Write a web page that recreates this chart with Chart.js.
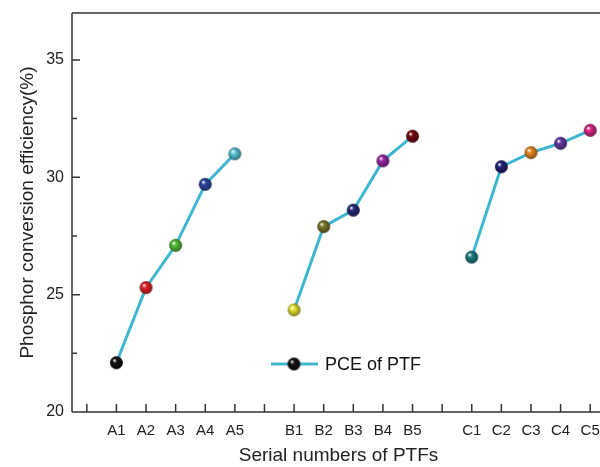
<!DOCTYPE html>
<html>
<head>
<meta charset="utf-8">
<script src="https://cdn.jsdelivr.net/npm/chart.js"></script>
<style>
  html, body { margin: 0; padding: 0; background: #fff; overflow: hidden; }
  #wrap { position: absolute; left: 0; top: 0; width: 620px; height: 467px; }
</style>
</head>
<body>
<div id="wrap"><canvas id="grafico"></canvas></div>
<script>
// datos
const categorias = ["", "A1", "A2", "A3", "A4", "A5", "", "B1", "B2", "B3", "B4", "B5", "", "C1", "C2", "C3", "C4", "C5"];
const valoresPCE = [null, 22.1, 25.3, 27.1, 29.7, 31.0, null, 24.35, 27.9, 28.6, 30.7, 31.75, null, 26.6, 30.45, 31.05, 31.45, 32.0];
const ticksY = [20, 25, 30, 35];
const ticksMenoresY = [22.5, 27.5, 32.5];

const coloresPuntos = [
  "#000000", "#111111", "#e8202a", "#58c03a", "#3048a8", "#5cc8dc",
  "#000000", "#e6e632", "#7c7a2e", "#262a80", "#9a2aa6", "#7a0a10",
  "#000000", "#1e7f82", "#22237a", "#f0891e", "#6a3aa6", "#e0288a"
];
const colorLinea = "#3fb6cf";
const fuente = "'Liberation Sans', Arial, sans-serif";

function oscurecer(hex, f) {
  const n = parseInt(hex.slice(1), 16);
  const r = Math.round(((n >> 16) & 255) * f);
  const g = Math.round(((n >> 8) & 255) * f);
  const b = Math.round((n & 255) * f);
  return `rgb(${r},${g},${b})`;
}

// esfera con brillo, como en la figura original
function crearEsfera(color, r) {
  const c = document.createElement("canvas");
  c.width = c.height = r * 2 + 2;
  const g = c.getContext("2d");
  const cx = r + 1, cy = r + 1;
  const grad = g.createRadialGradient(cx - r * 0.35, cy - r * 0.4, r * 0.05, cx, cy, r);
  grad.addColorStop(0, "#ffffff");
  grad.addColorStop(0.3, color);
  grad.addColorStop(1, oscurecer(color, 0.55));
  g.fillStyle = grad;
  g.beginPath();
  g.arc(cx, cy, r, 0, Math.PI * 2);
  g.fill();
  return c;
}

const esferas = coloresPuntos.map(c => crearEsfera(c, 6.5));

// marco, ticks hacia dentro y leyenda
const marcoPlugin = {
  id: "marco",
  afterDatasetsDraw(chart) {
    const { ctx, chartArea: a, scales } = chart;
    const x = scales.x, y = scales.y;
    ctx.save();
    ctx.strokeStyle = "#333";
    ctx.lineWidth = 1.5;
    ctx.beginPath();
    ctx.moveTo(a.left, a.top); ctx.lineTo(a.right, a.top);
    ctx.moveTo(a.left, a.top); ctx.lineTo(a.left, a.bottom);
    ctx.moveTo(a.left, a.bottom); ctx.lineTo(a.right, a.bottom);
    ctx.moveTo(a.right, a.top); ctx.lineTo(a.right, a.bottom);
    // ticks x
    categorias.forEach((_, i) => {
      const px = x.getPixelForTick(i);
      ctx.moveTo(px, a.bottom); ctx.lineTo(px, a.bottom - 8);
    });
    ticksY.forEach(v => {
      const py = y.getPixelForValue(v);
      ctx.moveTo(a.left, py); ctx.lineTo(a.left + 8, py);
    });
    ticksMenoresY.forEach(v => {
      const py = y.getPixelForValue(v);
      ctx.moveTo(a.left, py); ctx.lineTo(a.left + 5, py);
    });
    ctx.stroke();

    // leyenda
    const ly = a.bottom - 48;
    const lx = a.left + 199;
    ctx.strokeStyle = colorLinea;
    ctx.lineWidth = 3;
    ctx.beginPath();
    ctx.moveTo(lx, ly); ctx.lineTo(lx + 47, ly);
    ctx.stroke();
    const esf = crearEsfera("#111111", 6.5);
    ctx.drawImage(esf, lx + 23 - esf.width / 2, ly - esf.height / 2);
    ctx.fillStyle = "#111";
    ctx.font = "18px " + fuente;
    ctx.textBaseline = "middle";
    ctx.fillText("PCE of PTF", lx + 54, ly + 1);
    ctx.restore();
  }
};

new Chart(document.getElementById("grafico"), {
  type: "line",
  data: {
    labels: categorias,
    datasets: [{
      label: "PCE of PTF",
      data: valoresPCE,
      borderColor: colorLinea,
      borderWidth: 3,
      pointStyle: esferas,
      pointRadius: 6.5,
      spanGaps: false,
      tension: 0
    }]
  },
  options: {
    responsive: true,
    maintainAspectRatio: false,
    animation: false,
    layout: { padding: { top: 13, right: 15, left: 0, bottom: 0 } },
    plugins: {
      legend: { display: false },
      tooltip: { enabled: false }
    },
    scales: {
      x: {
        type: "category",
        offset: true,
        grid: { display: false, drawTicks: false, offset: false },
        border: { display: false },
        ticks: {
          autoSkip: false,
          maxRotation: 0,
          padding: 10,
          color: "#222",
          font: { family: fuente, size: 15 }
        },
        title: {
          display: true,
          text: "Serial numbers of PTFs",
          color: "#222",
          font: { family: fuente, size: 19 },
          padding: { top: 0, bottom: 0 }
        },
        afterFit(scale) { scale.height = 55; }
      },
      y: {
        min: 20,
        max: 37,
        grid: { display: false, drawTicks: false },
        border: { display: false },
        ticks: {
          stepSize: 5,
          padding: 8,
          color: "#222",
          font: { family: fuente, size: 16 },
          callback: v => (ticksY.includes(v) ? v : "")
        },
        title: {
          display: true,
          text: "Phosphor conversion efficiency(%)",
          color: "#222",
          font: { family: fuente, size: 19 },
          padding: { top: 16, bottom: 0 }
        },
        afterFit(scale) {
          scale.width = 72;
          scale.paddingTop = 0;
          scale.paddingBottom = 0;
        }
      }
    }
  },
  plugins: [marcoPlugin]
});
</script>
</body>
</html>
